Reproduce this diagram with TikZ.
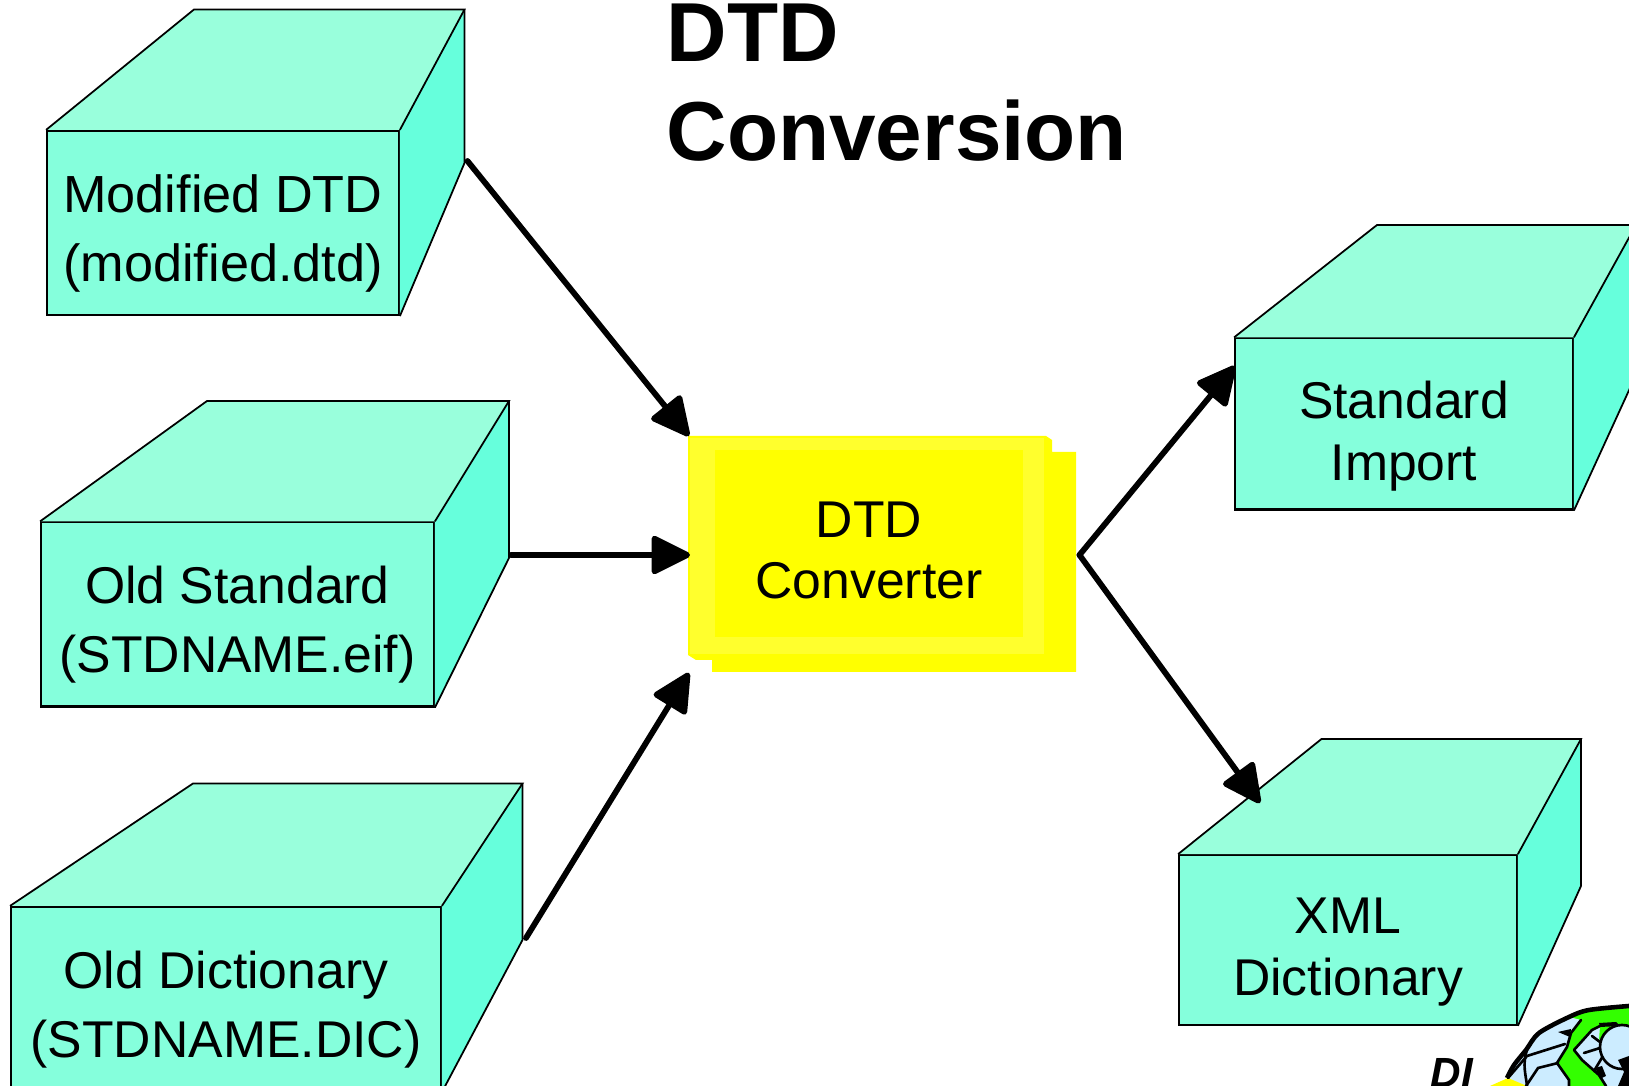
\documentclass[tikz,border=0pt]{standalone}
\usepackage{fontspec}
\setmainfont{Liberation Sans}
\usetikzlibrary{arrows.meta,positioning}
\definecolor{frontcol}{RGB}{133,255,220}
\definecolor{topcol}{RGB}{153,255,220}
\definecolor{sidecol}{RGB}{102,255,220}
\definecolor{pureyellow}{RGB}{255,255,0}
\definecolor{lightyellow}{RGB}{255,255,45}
\definecolor{globeblue}{RGB}{204,236,255}
\definecolor{globegreen}{RGB}{51,255,0}
\tikzset{
  boxfront/.style={draw,line width=0.6pt,fill=frontcol,inner sep=0pt,align=center,font=\fontsize{14.7}{19.7}\selectfont},
  boxshort/.style={font=\fontsize{14.7}{17.6}\selectfont},
  boxface/.style={draw,line width=0.5pt},
  flow/.style={-{Triangle[length=12pt,width=11.5pt,round]},line width=1.65pt,line cap=round},
  gridline/.style={line width=0.75pt,line cap=round},
}
\newcommand{\dropped}[1]{\rule{0pt}{#1pt}}
% front face first, then the two faces behind it
\newcommand{\crate}[7]{%
  \fill[topcol] (#1.north west) -- (#2,#3) -- (#4,#3) -- (#1.north east) -- cycle;
  \fill[sidecol] (#1.north east) -- (#4,#3) -- (#4,#5) -- (#1.south east) -- cycle;
  \draw[boxface] (#1.north west) -- (#2,#3) -- (#4,#3) -- (#1.north east);
  \draw[boxface] (#4,#3) -- (#4,#5) -- (#1.south east);
  \coordinate (#1tip) at (#6,#7);
}
\begin{document}
\begin{tikzpicture}[x=0.01cm,y=-0.01cm]
  \useasboundingbox (0,0) rectangle (1629,1086);
  \clip (0,0) rectangle (1629,1086);
  % converter
  \fill[pureyellow] (688,436) -- (1046,436) -- (1052,440) -- (1052,452) -- (1076,452) -- (1076,672) -- (712,672) -- (712,660) -- (696,660) -- (688,655) -- cycle;
  \fill[lightyellow] (690,438) rectangle (1044,654);
  \node[fill=pureyellow,minimum width=3.08cm,minimum height=1.87cm,inner sep=0pt,align=center,font=\fontsize{14.7}{17.6}\selectfont] (conv) at (869,543.5) {\dropped{14.1}DTD\\Converter};
  \coordinate (convin1) at (689,436);
  \coordinate (convin2) at (690,555);
  \coordinate (convin3) at (689,673);
  \coordinate (convout) at (1079.5,555);
  % boxes
  \node[boxfront,minimum width=3.515cm,minimum height=1.84cm,font=\fontsize{14.85}{19.7}\selectfont] (modified) at (223,223) {\dropped{16.8}Modified DTD\\(modified.dtd)};
  \crate{modified}{194}{9.5}{464.5}{163}{467.5}{161}
  \node[boxfront,minimum width=3.925cm,minimum height=1.84cm] (oldstd) at (237.5,614.5) {\dropped{16.5}Old Standard\\(STDNAME.eif)};
  \crate{oldstd}{207}{401}{509}{558}{511}{555}
  \node[boxfront,minimum width=4.295cm,minimum height=1.84cm] (olddict) at (226,999) {\dropped{16.5}Old Dictionary\\(STDNAME.DIC)};
  \crate{olddict}{193}{783.5}{522.5}{940}{526}{938}
  \node[boxfront,boxshort,minimum width=3.375cm,minimum height=1.71cm] (stdimport) at (1404,424) {\dropped{17.7}Standard\\Import};
  \crate{stdimport}{1377}{225}{1636}{375}{1235}{366}
  \node[boxfront,boxshort,minimum width=3.375cm,minimum height=1.695cm] (xmldict) at (1348,940) {\dropped{17}XML\\Dictionary};
  \crate{xmldict}{1321.5}{739}{1581}{886}{1260}{803}
  % arrows
  \draw[flow] (modifiedtip) -- (convin1);
  \draw[flow] (oldstdtip) -- (convin2);
  \draw[flow] (olddicttip) -- (convin3);
  \draw[flow] (convout) -- (stdimporttip);
  \draw[flow] (convout) -- (xmldicttip);
  % title
  \node[anchor=base west,inner sep=0pt,font=\fontsize{23.8}{28}\selectfont\bfseries] (title1) at (666,62) {DTD};
  \node[anchor=base west,inner sep=0pt,font=\fontsize{23.8}{28}\selectfont\bfseries] (title2) at (666,161) {Conversion};
  % logo
  \node[anchor=base west,inner sep=0pt,font=\fontsize{12}{14}\selectfont\bfseries\itshape] (logotext) at (1430,1088) {DI};
  \fill[globegreen] plot[smooth] coordinates {(1505,1086) (1507,1078) (1514,1065) (1526,1050) (1539,1033) (1569,1017) (1589,1010) (1629,1006)} -- (1629,1086) -- cycle;
  \fill[globeblue] (1507,1078) -- (1514,1065) -- (1526,1050) -- (1539,1033) -- (1569,1017) -- (1581,1020) -- (1571,1033) -- (1567,1047) -- (1557,1063) -- (1569,1080) -- (1569,1086) -- (1505,1086) -- cycle;
  \fill[globeblue] (1574,1050) -- (1592,1030) -- (1600,1026) -- (1599,1040) -- (1629,1030) -- (1629,1086) -- (1606,1086) -- (1599,1075) -- (1582,1060) -- cycle;
  \fill[pureyellow] (1490,1086) -- (1508,1078) -- (1527,1086) -- cycle;
  \draw[line width=1.3pt] plot[smooth] coordinates {(1507,1078) (1514,1065) (1526,1050) (1539,1033) (1569,1017) (1589,1010) (1629,1006)};
  \draw[gridline] (1581,1020) -- (1571,1033) -- (1567,1047) -- (1557,1063) -- (1569,1080) -- (1569,1086);
  \draw[gridline] (1574,1050) -- (1592,1030) -- (1600,1026);
  \draw[gridline] (1574,1050) -- (1582,1060) -- (1599,1075) -- (1606,1086);
  \draw[gridline] (1508,1078) -- (1527,1056) -- (1565,1044);
  \draw[gridline] (1526,1086) -- (1538,1068) -- (1558,1063);
  \draw[gridline] (1527,1050) .. controls (1522,1065) and (1526,1075) .. (1527,1086);
  \draw[gridline] (1592,1036) -- (1600,1042);
  \draw[gridline] (1584,1053) -- (1600,1048);
  \draw[gridline] (1594,1071) -- (1603,1056);
  \fill[globeblue,draw=black,line width=0.75pt] (1622,1047) circle (22);
  \fill (1595,1068) -- (1602,1066) -- (1606,1076) -- (1600,1079) -- cycle;
  \fill (1618,1060) -- (1629,1056) -- (1629,1086) -- (1618,1086) -- (1624,1072) -- cycle;
  \fill (1558,1032) -- (1571,1029) -- (1570,1037) -- cycle;
  \fill (1599,1023) -- (1616,1022) -- (1620,1026) -- (1600,1027) -- cycle;
\end{tikzpicture}
\end{document}
